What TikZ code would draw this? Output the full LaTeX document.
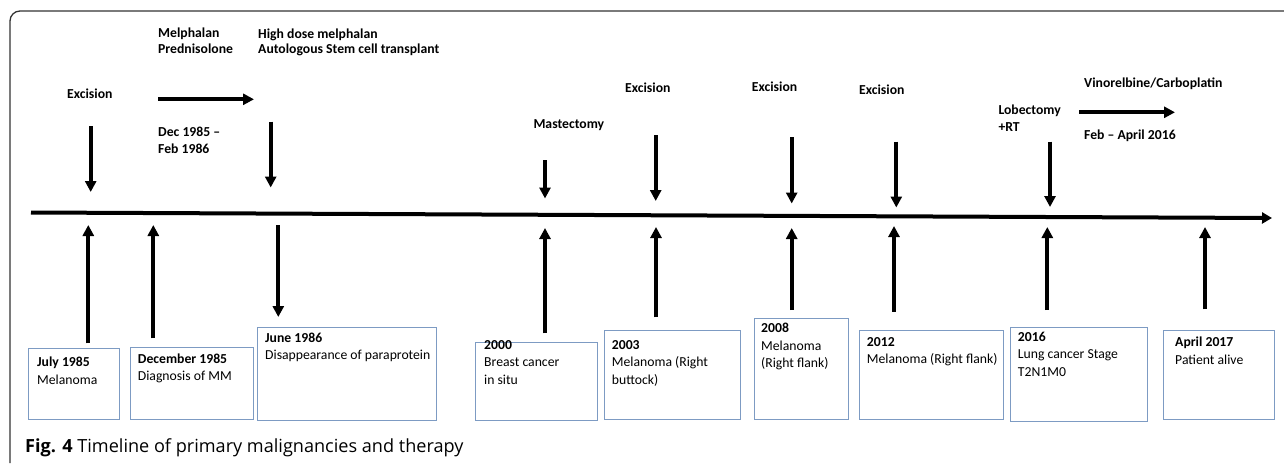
\documentclass[tikz,border=0pt]{standalone}
\usepackage{fontspec}
\setmainfont{Carlito}
\newfontfamily\capfont{Open Sans}
\usetikzlibrary{arrows.meta}
\definecolor{boxc}{RGB}{125,155,195}
\definecolor{framec}{RGB}{50,50,50}
\begin{document}
\begin{tikzpicture}[x=1pt,y=-1pt,
  lbl/.style={inner sep=0pt,anchor=base west,align=left,font=\fontsize{13.7}{17.5}\selectfont\bfseries},
  txt/.style={inner sep=0pt,anchor=base west,align=left,font=\fontsize{13.7}{17.5}\selectfont},
  evbox/.style={draw=boxc,line width=1pt,inner sep=0pt},
  arr/.style={line width=3.8pt,-{Triangle[length=11pt,width=11pt]}},
  axisline/.style={line width=4pt,-{Triangle[length=10pt,width=11pt]}}
]
\useasboundingbox (0,0) rectangle (1284,463);
% frame
\draw[framec,line width=1.3pt,rounded corners=10pt] (10,463) -- (10,11) -- (1284,11);

% axis
\coordinate (axL) at (31,212.5);
\coordinate (axR) at (1272,218);
\draw[axisline] (axL) -- (axR);

% top labels (anchor = baseline of last line)
\node[lbl] (exc1) at (67,98) {Excision};
\node[lbl,font=\fontsize{13.7}{15.6}\selectfont\bfseries] (mp) at (158,53.3) {Melphalan\\Prednisolone};
\node[lbl,font=\fontsize{13.7}{15.6}\selectfont\bfseries] (hd) at (258,53.6) {High dose melphalan\\Autologous Stem cell transplant};
\node[lbl,font=\fontsize{13.7}{16.6}\selectfont\bfseries] (dec) at (158,153.3) {Dec 1985 --\\Feb 1986};
\node[lbl] (mast) at (533.3,128.3) {Mastectomy};
\node[lbl] (exc2) at (625,92.3) {Excision};
\node[lbl] (exc3) at (751.7,91.7) {Excision};
\node[lbl] (exc4) at (859,94) {Excision};
\node[lbl] (lob) at (998.3,131.8) {Lobectomy\\+RT};
\node[lbl] (vin) at (1084,87.3) {Vinorelbine/Carboplatin};
\node[lbl] (feb) at (1084,139.3) {Feb -- April 2016};

% horizontal therapy arrows
\coordinate (h1s) at (158,99.3); \coordinate (h1e) at (254,99.3);
\draw[arr] (h1s) -- (h1e);
\coordinate (h2s) at (1079.3,112.3); \coordinate (h2e) at (1175,112.3);
\draw[arr] (h2s) -- (h2e);

% down arrows above axis
\coordinate (d1s) at (90.7,126); \coordinate (d1e) at (90.7,192);
\coordinate (d2s) at (270.7,121.7); \coordinate (d2e) at (270.7,187.5);
\coordinate (d3s) at (545,160); \coordinate (d3e) at (545,198.5);
\coordinate (d4s) at (655.7,135); \coordinate (d4e) at (655.7,201);
\coordinate (d5s) at (791.7,137.3); \coordinate (d5e) at (791.7,203.5);
\coordinate (d6s) at (896.3,141.7); \coordinate (d6e) at (896.3,207.5);
\coordinate (d7s) at (1050,141.7); \coordinate (d7e) at (1050,207);
\foreach \i in {1,...,7} {\draw[arr] (d\i s) -- (d\i e);}

% boxes
\node[evbox,minimum width=91pt,minimum height=71pt,anchor=north west] (b1) at (28,348) {};
\node[evbox,minimum width=123pt,minimum height=72pt,anchor=north west] (b2) at (130,347) {};
\node[evbox,minimum width=179pt,minimum height=93pt,anchor=north west] (b3) at (257,327) {};
\node[evbox,minimum width=122pt,minimum height=77.5pt,anchor=north west] (b4) at (475,342) {};
\node[evbox,minimum width=136pt,minimum height=89pt,anchor=north west] (b5) at (604,330) {};
\node[evbox,minimum width=94pt,minimum height=101pt,anchor=north west] (b6) at (754,318) {};
\node[evbox,minimum width=144pt,minimum height=89pt,anchor=north west] (b7) at (859,330) {};
\node[evbox,minimum width=137pt,minimum height=94pt,anchor=north west] (b8) at (1010,327) {};
\node[evbox,minimum width=111pt,minimum height=89pt,anchor=north west] (b9) at (1163,330) {};

% box texts (anchor = baseline of last line)
\node[txt] (t1) at (37,384.2) {\textbf{July 1985}\\Melanoma};
\node[txt] (t2) at (137.7,380.5) {\textbf{December 1985}\\Diagnosis of MM};
\node[txt] (t3) at (265,359.5) {\textbf{June 1986}\\Disappearance of paraprotein};
\node[txt] (t4) at (484,384.3) {\textbf{2000}\\Breast cancer\\in situ};
\node[txt] (t5) at (611.7,384) {\textbf{2003}\\Melanoma (Right\\buttock)};
\node[txt] (t6) at (761,367.7) {\textbf{2008}\\Melanoma\\(Right flank)};
\node[txt] (t7) at (866.7,363.5) {\textbf{2012}\\Melanoma (Right flank)};
\node[txt] (t8) at (1017.7,376) {\textbf{2016}\\Lung cancer Stage\\T2N1M0};
\node[txt] (t9) at (1175,364.2) {\textbf{April 2017}\\Patient alive};

% up arrows from boxes to axis
\coordinate (u1s) at (88.3,343.3); \coordinate (u1e) at (88.3,225);
\coordinate (u2s) at (153.3,338.3); \coordinate (u2e) at (153.3,225);
\coordinate (u4s) at (545,333.3); \coordinate (u4e) at (545,228);
\coordinate (u5s) at (656,317.3); \coordinate (u5e) at (656,227);
\coordinate (u6s) at (791.7,310); \coordinate (u6e) at (791.7,228);
\coordinate (u7s) at (894,311.7); \coordinate (u7e) at (894,226);
\coordinate (u8s) at (1047.3,310); \coordinate (u8e) at (1047.3,227);
\coordinate (u9s) at (1205,309.3); \coordinate (u9e) at (1205,227);
\foreach \i in {1,2,4,5,6,7,8,9} {\draw[arr] (u\i s) -- (u\i e);}
% down arrow to June 1986 box
\coordinate (u3s) at (278.3,225); \coordinate (u3e) at (278.3,317);
\draw[arr] (u3s) -- (u3e);

% caption
\node[inner sep=0pt,anchor=base west,font=\fontsize{18.1}{22}\capfont] (cap) at (25,452) {\textbf{Fig. 4} Timeline of primary malignancies and therapy};
\end{tikzpicture}
\end{document}
